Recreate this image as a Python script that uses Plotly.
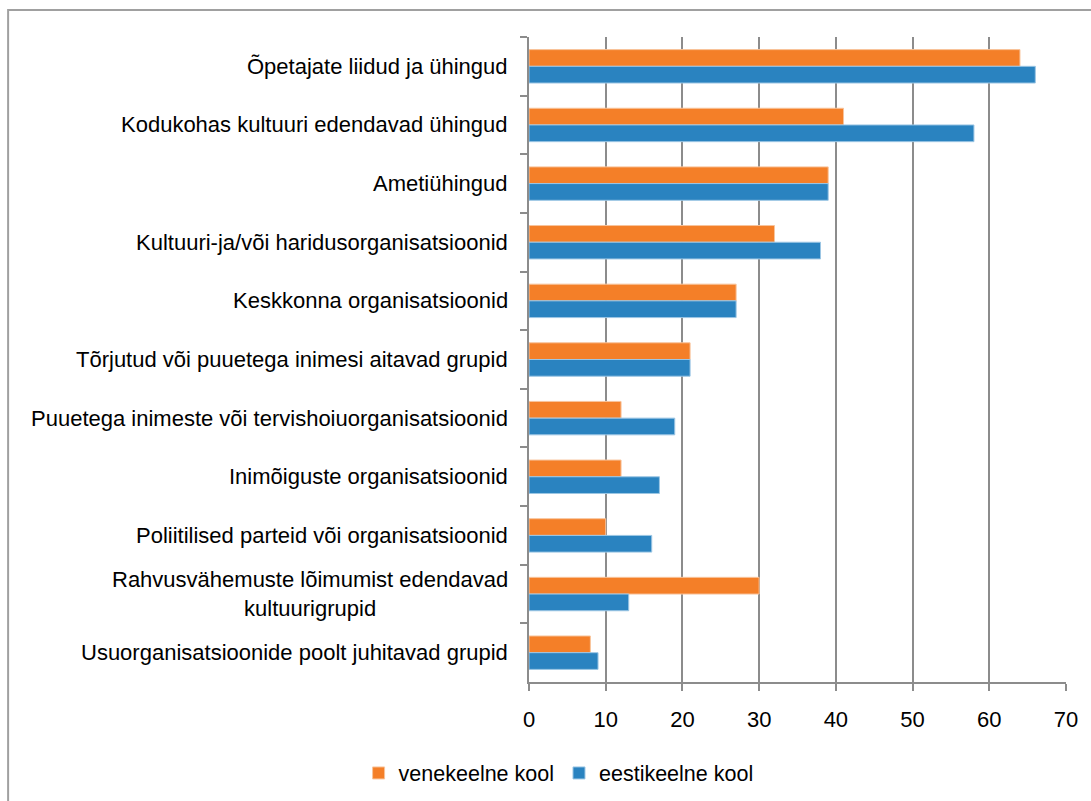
import plotly.graph_objects as go

# Organisation types (top to bottom) and share of schools per school language
categories = [
    "Õpetajate liidud ja ühingud",
    "Kodukohas kultuuri edendavad ühingud",
    "Ametiühingud",
    "Kultuuri-ja/või haridusorganisatsioonid",
    "Keskkonna organisatsioonid",
    "Tõrjutud või puuetega inimesi aitavad grupid",
    "Puuetega inimeste või tervishoiuorganisatsioonid",
    "Inimõiguste organisatsioonid",
    "Poliitilised parteid või organisatsioonid",
    "Rahvusvähemuste lõimumist edendavad<br>kultuurigrupid",
    "Usuorganisatsioonide poolt juhitavad grupid",
]
venekeelne = [64, 41, 39, 32, 27, 21, 12, 12, 10, 30, 8]
eestikeelne = [66, 58, 39, 38, 27, 21, 19, 17, 16, 13, 9]
x_ticks = [0, 10, 20, 30, 40, 50, 60, 70]

ORANGE = "#F47F28"
BLUE = "#2A83C0"
GRID = "#8C8C8C"
FONT = "Liberation Sans, Arial, sans-serif"

fig = go.Figure()
fig.add_trace(go.Bar(
    y=categories, x=venekeelne, orientation="h", name="venekeelne kool",
    marker=dict(color=ORANGE, line=dict(color="#F8C49C", width=1)),
))
fig.add_trace(go.Bar(
    y=categories, x=eestikeelne, orientation="h", name="eestikeelne kool",
    marker=dict(color=BLUE, line=dict(color="#9CC6E4", width=1)),
))

# Category labels, centred line by line and right-aligned to the axis
for cat in categories:
    fig.add_annotation(
        x=0, y=cat, xref="x", yref="y", text=cat, showarrow=False,
        xanchor="right", yanchor="middle", align="center", xshift=-19,
        font=dict(family=FONT, size=22, color="#000000"),
    )

# Outer chart frame
fig.add_shape(
    type="rect", xref="paper", yref="paper",
    x0=-0.970, x1=1.06, y0=-0.20, y1=1.0419,
    line=dict(color="#A0A0A0", width=2), fillcolor="rgba(0,0,0,0)", layer="below",
)

fig.update_layout(
    width=1091, height=801,
    margin=dict(l=529, r=25, t=37, b=119),
    paper_bgcolor="white", plot_bgcolor="white",
    barmode="group", bargap=0.43, bargroupgap=0,
    font=dict(family=FONT, size=22, color="#000000"),
    showlegend=True,
    legend=dict(
        orientation="h", xref="container", yref="container",
        x=0.512, y=0.035, xanchor="center", yanchor="middle",
        font=dict(family=FONT, size=21.5, color="#000000"),
        itemwidth=30, tracegroupgap=0,
    ),
    xaxis=dict(
        range=[0, 70], tickvals=x_ticks, showgrid=True, gridcolor=GRID, gridwidth=2,
        showline=True, linecolor=GRID, linewidth=2,
        ticks="outside", ticklen=7, tickwidth=2, tickcolor=GRID,
        ticklabelstandoff=10, zeroline=False,
        tickfont=dict(family=FONT, size=22, color="#000000"),
    ),
    yaxis=dict(
        autorange="reversed", type="category", showticklabels=False,
        showline=True, linecolor=GRID, linewidth=2,
        ticks="outside", ticklen=7, tickwidth=2, tickcolor=GRID,
        tickson="boundaries", showgrid=False, zeroline=False,
    ),
)

fig.write_html("out.html")
